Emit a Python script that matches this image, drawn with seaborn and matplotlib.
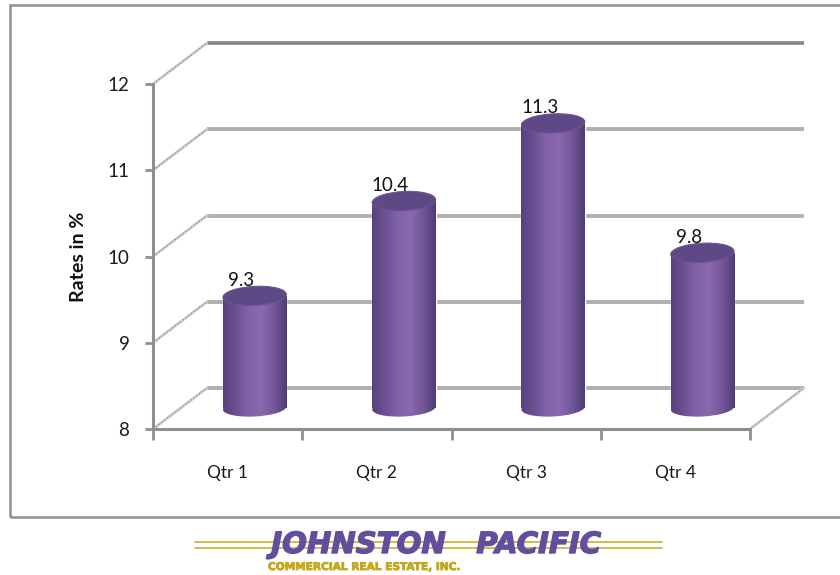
import numpy as np
import pandas as pd
import matplotlib.pyplot as plt
import matplotlib.patheffects as pe
import seaborn as sns
from matplotlib.colors import LinearSegmentedColormap
from matplotlib.patches import Ellipse, Rectangle
from matplotlib.transforms import IdentityTransform

quarters = ['Qtr 1', 'Qtr 2', 'Qtr 3', 'Qtr 4']
rates = [9.3, 10.4, 11.3, 9.8]
y_ticks = [8, 9, 10, 11, 12]

W, H = 840, 575
GREY = '#8f8f8f'
WALL = '#b0b0b0'
FONT = ['Lato', 'DejaVu Sans']

sns.set_theme(style='white')
plt.rcParams['font.family'] = FONT


def px_box(left, top, right, bottom):
    """pixel box (from top left) -> figure fractions"""
    return [left / W, 1 - bottom / H, (right - left) / W, (bottom - top) / H]


fig = plt.figure(figsize=(W / 100, H / 100), dpi=100, facecolor='white')

# outer frame
fig.add_artist(Rectangle((10 / W, 1 - 517 / H), 840 / W, 512 / H, transform=fig.transFigure,
                         fill=False, edgecolor=GREY, linewidth=1.8))

# front plane of the chart
ax = fig.add_axes(px_box(153, 84, 750, 429))
ax.set_xlim(0, 4)
ax.set_ylim(8, 12)
ax.patch.set_alpha(0)
px_x = 4 / 597
px_y = 4 / 345
dx = 54 * px_x
dy = 41 * px_y

# back wall and the floor lines
for t in y_ticks:
    lw = 2.6 if t == 12 else 2.8
    ax.plot([dx, 4 + dx], [t + dy, t + dy], color='#858585' if t == 12 else WALL, lw=lw,
            clip_on=False, zorder=1, solid_capstyle='butt')
    ax.plot([0, dx], [t, t + dy], color='#d0d0d0', lw=2.0, clip_on=False, zorder=1)
    ax.plot([0, dx], [t, t + dy], color='#9a9a9a', lw=0.9, ls=(0, (1.5, 1.2)), clip_on=False, zorder=1)
ax.plot([4, 4 + dx], [8, 8 + dy], color='#d0d0d0', lw=2.0, clip_on=False, zorder=1)
ax.plot([4, 4 + dx], [8, 8 + dy], color='#9a9a9a', lw=0.9, ls=(0, (1.5, 1.2)), clip_on=False, zorder=1)

ax.set_yticks(y_ticks)
ax.set_xticks([0, 1, 2, 3, 4])
ax.set_xticklabels([])
ax.tick_params(axis='y', length=6, width=2, color=GREY, labelsize=13.5, pad=11, left=True, labelcolor='#1a1a1a')
ax.tick_params(axis='x', length=8, width=2, color=GREY, bottom=True)
for name in ['top', 'right']:
    ax.spines[name].set_visible(False)
for name in ['left', 'bottom']:
    ax.spines[name].set_color(GREY)
    ax.spines[name].set_linewidth(2.2)
for i, q in enumerate(quarters):
    ax.text(i + 0.5, 8 - 44 * px_y, q, ha='center', va='center', fontsize=12.5, color='#1a1a1a')
ax.set_ylabel('Rates in %', fontsize=14, fontweight='bold', color='#111111', labelpad=15)

# bars stand half way into the depth of the chart, floor room kept for the round base
bar_ax = fig.add_axes(px_box(153 + 27, 84 - 21, 750 + 27, 429 - 21 + 345 * 0.3 / 4))
bar_ax.patch.set_alpha(0)
df = pd.DataFrame({'quarter': quarters, 'rate': rates})
sns.barplot(data=df, x='quarter', y='rate', color='#7a5c9e', width=0.425, saturation=1, ax=bar_ax, zorder=2)
bar_ax.set_ylim(7.7, 12)
bar_ax.set_xlim(-0.5, 3.5)
bar_ax.axis('off')

shade = LinearSegmentedColormap.from_list('cyl', ['#57427f', '#6b5193', '#8362a9', '#8a68ae', '#73579a', '#503c76'])
ramp = np.linspace(0, 1, 128).reshape(1, -1)
ell_h = 17
tilt = 3
for i, (patch, val) in enumerate(zip(list(bar_ax.patches), rates)):
    x0 = patch.get_x()
    w = patch.get_width()
    w_px = w * 597 / 4
    # the bar body ends at the axis floor, the round base goes below it
    patch.set_y(8)
    patch.set_height(val - 8)
    cx, cy = bar_ax.transData.transform((x0 + w / 2, 8))
    base = Ellipse((cx, cy), w_px, ell_h, angle=tilt, facecolor='none', edgecolor='none',
                   transform=IdentityTransform())
    bar_ax.add_patch(base)
    for clip in [patch, base]:
        img = bar_ax.imshow(ramp, extent=[x0, x0 + w, 7.7, val], cmap=shade, aspect='auto', zorder=3)
        img.set_clip_path(clip)
    patch.set_facecolor('none')
    cx, cy = bar_ax.transData.transform((x0 + w / 2, val))
    bar_ax.add_patch(Ellipse((cx, cy), w_px, ell_h + 2, angle=tilt, facecolor='#5e4885', edgecolor='#6d5394',
                             linewidth=0.8, zorder=4, transform=IdentityTransform()))
    bar_ax.text(i - 0.09, val + 7 * px_y, f'{val:.1f}', ha='center', va='bottom', fontsize=13.5,
                color='#111111', zorder=5)
bar_ax.set_ylim(7.7, 12)
bar_ax.set_xlim(-0.5, 3.5)

# logo strip under the chart
fig.text(436 / W, 1 - 545 / H, 'JOHNSTON   PACIFIC', ha='center', va='center', fontsize=21,
         fontweight='bold', fontstyle='italic', color='#5f4f9c', family=['DejaVu Sans'],
         path_effects=[pe.withStroke(linewidth=1.0, foreground='#5f4f9c')])
for y in [542, 548]:
    fig.add_artist(plt.Line2D([195 / W, 662 / W], [1 - y / H, 1 - y / H], color='#c9b22e', lw=1.2))
fig.text(268 / W, 1 - 567 / H, 'COMMERCIAL REAL ESTATE, INC.', ha='left', va='center', fontsize=7.6,
         fontweight='bold', color='#c2a81c', family=['DejaVu Sans'],
         path_effects=[pe.withStroke(linewidth=0.6, foreground='#c2a81c')])

fig.savefig('out.png', dpi=100)
